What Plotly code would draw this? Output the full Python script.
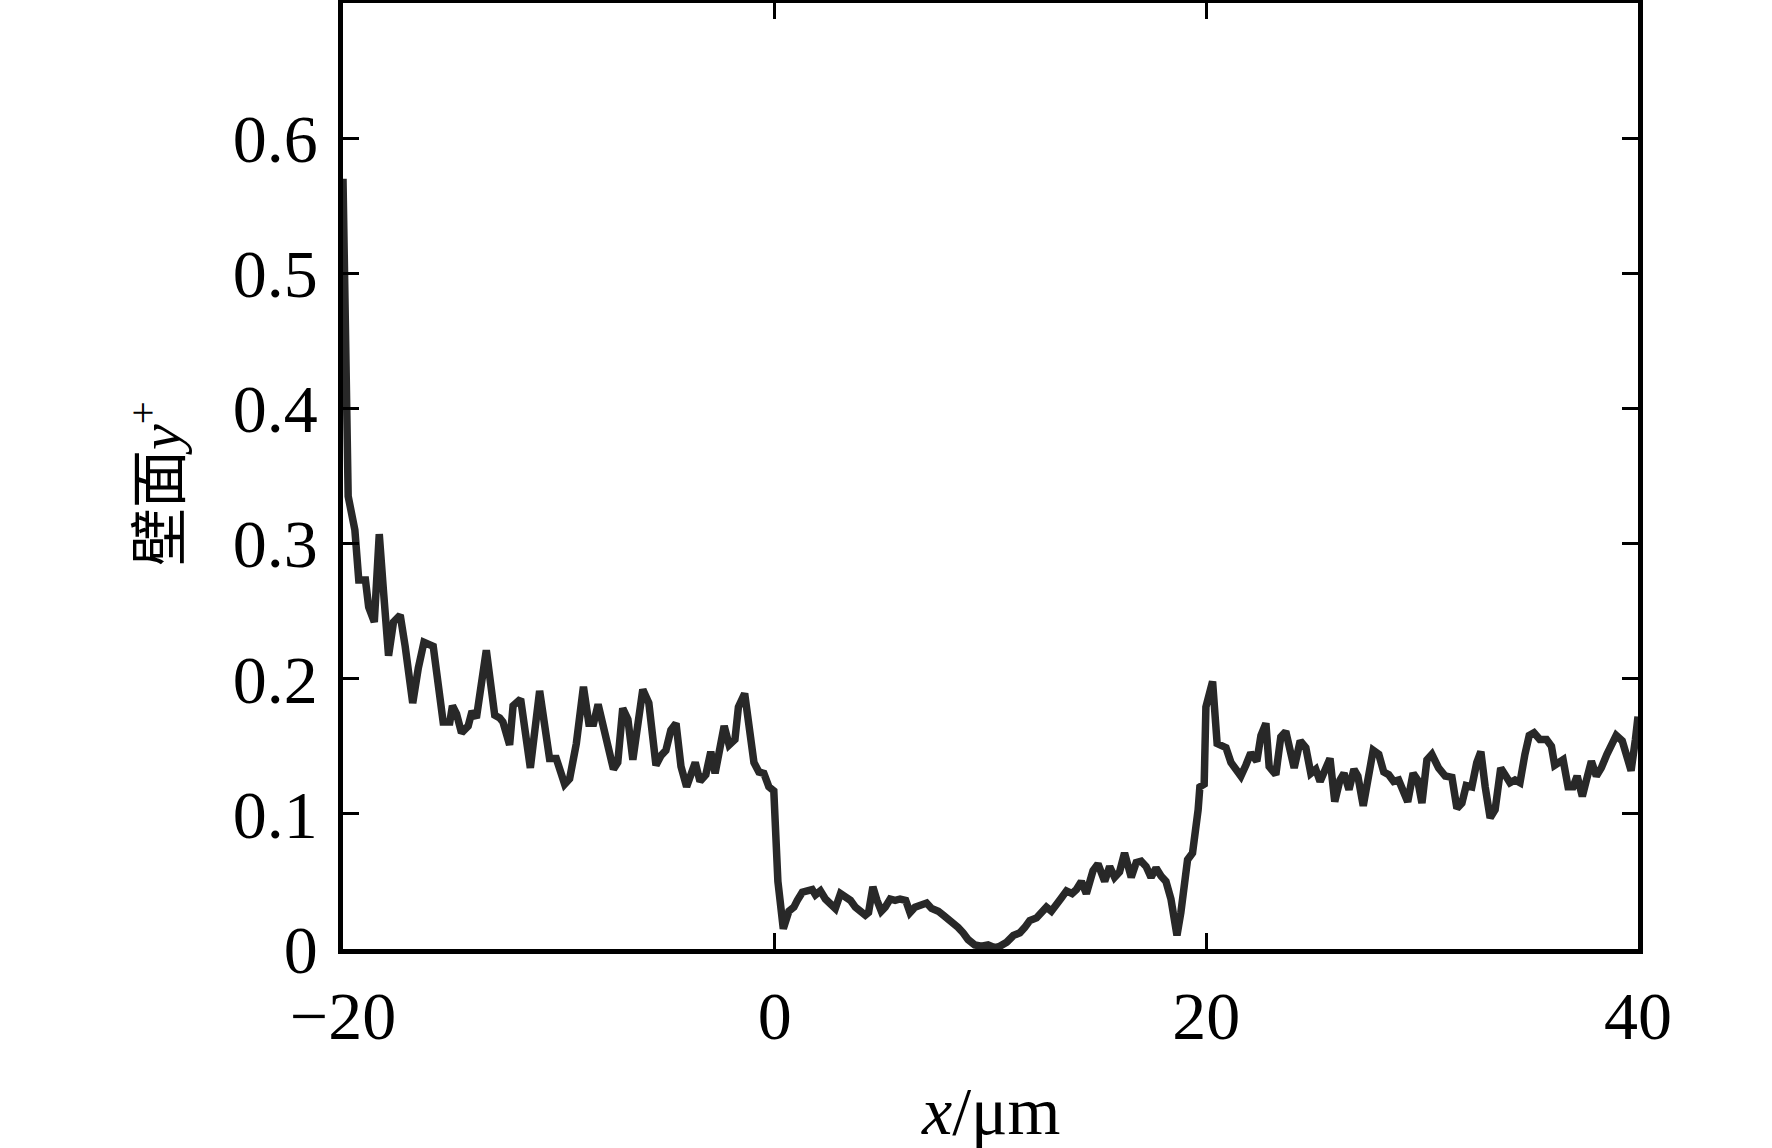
import plotly.graph_objects as go

# wall y+ profile
x_um = [-20.0, -19.9, -19.82, -19.76, -19.45, -19.27, -18.96, -18.81, -18.55, -18.32,
        -18.12, -17.89, -17.66, -17.35, -17.12, -16.77, -16.51, -16.25, -15.82, -15.59,
        -15.36, -15.05, -14.93, -14.74, -14.51, -14.20, -14.02, -13.82, -13.36, -12.97,
        -12.74, -12.59, -12.28, -12.12, -11.77, -11.32, -10.89, -10.43, -10.12, -9.73,
        -9.50, -9.19, -8.86, -8.61, -8.39, -8.18, -7.81, -7.47, -7.27, -7.04,
        -6.80, -6.57, -6.11, -5.83, -5.50, -5.27, -5.04, -4.81, -4.57, -4.34,
        -4.08, -3.68, -3.46, -3.19, -2.96, -2.76, -2.34, -2.11, -1.84, -1.68,
        -1.39, -0.96, -0.73, -0.50, -0.27, -0.04, 0.15, 0.40, 0.66, 0.89,
        1.05, 1.28, 1.51, 1.74, 1.89, 2.12, 2.35, 2.58, 2.81, 3.05,
        3.28, 3.51, 3.74, 3.97, 4.20, 4.35, 4.55, 4.74, 4.94, 5.12,
        5.35, 5.58, 5.81, 6.07, 6.27, 6.50, 6.81, 7.04, 7.27, 7.58,
        7.81, 8.04, 8.27, 8.50, 8.73, 8.96, 9.27, 9.58, 9.89, 10.20,
        10.43, 10.75, 11.06, 11.36, 11.59, 11.82, 12.13, 12.36, 12.59, 12.82,
        13.05, 13.29, 13.52, 13.78, 13.98, 14.21, 14.44, 14.60, 14.75, 14.98,
        15.29, 15.52, 15.75, 15.98, 16.21, 16.52, 16.75, 16.98, 17.21, 17.44,
        17.67, 17.90, 18.13, 18.36, 18.52, 18.64, 18.82, 18.98, 19.13, 19.36,
        19.52, 19.62, 19.70, 19.90, 19.98, 20.29, 20.50, 20.91, 21.14, 21.37,
        21.60, 21.83, 22.06, 22.34, 22.53, 22.76, 22.91, 23.22, 23.45, 23.68,
        24.07, 24.35, 24.61, 24.84, 25.07, 25.27, 25.53, 25.73, 25.95, 26.19,
        26.38, 26.61, 26.84, 27.02, 27.27, 27.48, 27.73, 27.99, 28.22, 28.45,
        28.68, 28.91, 29.11, 29.33, 29.58, 29.79, 29.99, 30.22, 30.45, 30.76,
        31.07, 31.38, 31.61, 31.84, 32.04, 32.30, 32.53, 32.72, 32.92, 33.15,
        33.38, 33.64, 33.84, 34.07, 34.30, 34.53, 34.76, 34.96, 35.18, 35.45,
        35.76, 35.99, 36.14, 36.37, 36.53, 36.76, 36.99, 37.18, 37.42, 37.61,
        37.84, 38.07, 38.30, 38.56, 38.76, 38.99, 39.27, 39.48, 39.68, 39.88,
        40.0]
wall_yplus = [0.570, 0.490, 0.400, 0.335, 0.310, 0.273, 0.273, 0.253, 0.242, 0.307,
              0.264, 0.217, 0.242, 0.247, 0.224, 0.182, 0.208, 0.227, 0.224, 0.193,
              0.168, 0.168, 0.180, 0.174, 0.160, 0.165, 0.176, 0.171, 0.221, 0.173,
              0.171, 0.168, 0.151, 0.180, 0.185, 0.134, 0.191, 0.141, 0.141, 0.122,
              0.126, 0.152, 0.194, 0.167, 0.167, 0.181, 0.155, 0.133, 0.138, 0.178,
              0.170, 0.140, 0.192, 0.182, 0.136, 0.143, 0.147, 0.162, 0.167, 0.135,
              0.120, 0.138, 0.124, 0.129, 0.146, 0.130, 0.165, 0.151, 0.155, 0.179,
              0.189, 0.138, 0.131, 0.130, 0.120, 0.117, 0.050, 0.015, 0.028, 0.031,
              0.036, 0.042, 0.043, 0.044, 0.040, 0.043, 0.037, 0.034, 0.030, 0.041,
              0.039, 0.036, 0.031, 0.028, 0.025, 0.027, 0.046, 0.036, 0.028, 0.031,
              0.037, 0.036, 0.037, 0.036, 0.027, 0.031, 0.033, 0.034, 0.030, 0.028,
              0.025, 0.022, 0.020, 0.016, 0.012, 0.007, 0.003, 0.002, 0.003, 0.001,
              0.002, 0.005, 0.010, 0.012, 0.016, 0.021, 0.023, 0.027, 0.031, 0.028,
              0.034, 0.038, 0.043, 0.041, 0.044, 0.050, 0.041, 0.052, 0.058, 0.063,
              0.050, 0.061, 0.053, 0.057, 0.071, 0.053, 0.064, 0.065, 0.061, 0.053,
              0.060, 0.054, 0.050, 0.037, 0.015, 0.010, 0.027, 0.047, 0.066, 0.071,
              0.086, 0.103, 0.120, 0.122, 0.179, 0.198, 0.152, 0.149, 0.138, 0.134,
              0.128, 0.136, 0.145, 0.139, 0.158, 0.167, 0.135, 0.129, 0.157, 0.161,
              0.134, 0.154, 0.149, 0.130, 0.133, 0.124, 0.134, 0.141, 0.109, 0.125,
              0.130, 0.118, 0.133, 0.128, 0.106, 0.125, 0.147, 0.144, 0.131, 0.129,
              0.124, 0.125, 0.117, 0.109, 0.130, 0.125, 0.108, 0.140, 0.144, 0.134,
              0.128, 0.127, 0.104, 0.108, 0.121, 0.120, 0.138, 0.146, 0.120, 0.097,
              0.103, 0.134, 0.129, 0.123, 0.125, 0.123, 0.144, 0.158, 0.160, 0.155,
              0.155, 0.150, 0.136, 0.139, 0.140, 0.120, 0.120, 0.128, 0.113, 0.125,
              0.139, 0.128, 0.134, 0.144, 0.152, 0.158, 0.154, 0.141, 0.132, 0.155,
              0.172]

x_tickvals = [-20, 0, 20, 40]
y_tickvals = [0, 0.1, 0.2, 0.3, 0.4, 0.5, 0.6]
y_ticktext = ["0", "0.1", "0.2", "0.3", "0.4", "0.5", "0.6"]
x_title = "<i>x</i>/μm"
y_title = "壁面<i>y</i><sup>+</sup>"

FONT = "Liberation Serif, Times New Roman, Noto Sans CJK SC, serif"

fig = go.Figure()
fig.add_trace(go.Scatter(x=x_um, y=wall_yplus, mode="lines",
                         line=dict(color="#282828", width=7.5),
                         showlegend=False, hoverinfo="skip"))

axis_common = dict(showgrid=False, zeroline=False, showline=True, linecolor="black",
                   linewidth=4.5, mirror="allticks", ticks="inside", ticklen=16,
                   tickwidth=3, tickcolor="black",
                   tickfont=dict(family=FONT, size=68, color="black"))

fig.update_xaxes(range=[-20, 40], tickvals=x_tickvals, ticklabelstandoff=4,
                 **axis_common)
fig.update_yaxes(range=[0, 0.7], tickvals=y_tickvals, ticktext=y_ticktext,
                 ticklabelstandoff=7, **axis_common)

fig.add_annotation(text=x_title, xref="paper", yref="paper", x=0.5, y=0,
                   xanchor="center", yanchor="middle", yshift=-162, showarrow=False,
                   font=dict(family=FONT, size=68, color="black"))
fig.add_annotation(text=y_title, xref="paper", yref="paper", x=0, y=0.5,
                   xanchor="center", yanchor="middle", xshift=-187, yshift=-8,
                   textangle=-90, showarrow=False,
                   font=dict(family=FONT, size=58, color="black"))

fig.update_layout(width=1772, height=1148, plot_bgcolor="white", paper_bgcolor="white",
                  margin=dict(l=343, r=134, t=3, b=199, autoexpand=False))

fig.write_html("out.html", config={"displayModeBar": False},
               post_script="document.body.style.margin='0px';document.body.style.overflow='hidden';")
